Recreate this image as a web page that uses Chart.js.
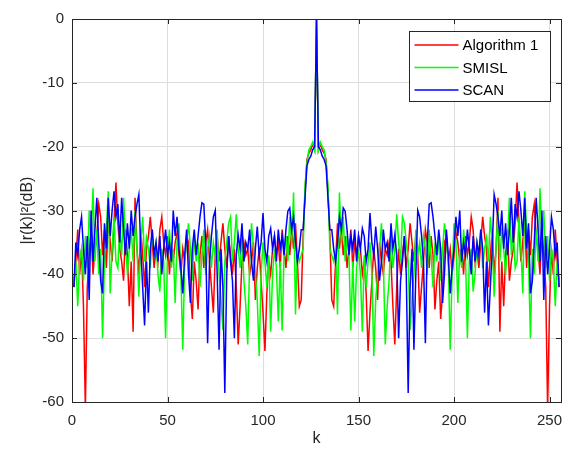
<!DOCTYPE html>
<html><head><meta charset="utf-8">
<script src="https://cdn.jsdelivr.net/npm/chart.js@4.4.0/dist/chart.umd.min.js"></script>
<style>html,body{margin:0;padding:0;background:#fff}</style>
</head><body>
<canvas id="c" width="568" height="453"></canvas>
<script>
const seriesNames = ['Algorithm 1', 'SMISL', 'SCAN'];
const seriesColors = ['#ff0000', '#00ff00', '#0000ff'];
const xTicks = [0, 50, 100, 150, 200, 250];
const yTicks = [0, -10, -20, -30, -40, -50, -60];

const algorithm1 = [
-42,-38,-33,-40,-36,-45,-61,-42,-37,-33,
-40,-36,-34,-29,-31,-37,-33,-39,-31,-35,
-38,-32,-25.6,-32,-36,-38,-41,-33,-37,-45,
-38,-49,-28,-36,-40,-33,-37,-42,-36,-34,
-31,-35,-39,-36,-38,-33,-31,-35,-37,-34,
-40,-36,-38,-35,-33.5,-37,-40,-36,-38,-34,
-35,-43,-47,-38,-41,-45.5,-37,-34,-39,-35,
-33,-38,-42,-46,-37,-34,-38,-35,-32,-36,
-39,-34,-37,-40,-36,-42,-51,-45,-38,-35,
-37,-36,-40,-38,-35,-44,-39,-36,-41,-46,
-52,-43,-38,-40,-36,-34,-37,-35,-39,-33,
-36,-39,-34,-37,-33,-36,-32,-38,-45,-44,
-34,-27,-22,-21,-20.5,-19.5,-20.5,
0,
-20.5,-19.5,-20.5,-21,-22,-27,-34,
-44,-45,-38,-32,-36,-33,-37,-34,-39,-36,
-33,-39,-35,-37,-34,-36,-40,-38,-43,-52,
-46,-41,-36,-39,-44,-35,-38,-40,-36,-37,
-35,-38,-45,-51,-42,-36,-40,-37,-34,-39,
-36,-32,-35,-38,-34,-37,-46,-42,-38,-33,
-35,-39,-34,-37,-45.5,-41,-38,-47,-43,-35,
-34,-38,-36,-40,-37,-33.5,-35,-38,-36,-40,
-34,-37,-35,-31,-33,-38,-36,-39,-35,-31,
-34,-36,-42,-37,-33,-40,-36,-28,-49,-38,
-45,-37,-33,-41,-38,-36,-32,-25.6,-32,-38,
-35,-31,-39,-33,-37,-31,-29,-34,-36,-40,
-33,-37,-42,-61,-45,-36,-40,-33,-38,-42
];

const smisl = [
-41,-38,-45,-38,-36,-41,-34,-39,-30,-35,
-26.5,-38,-33,-40,-36,-50,-38,-33,-27,-43,
-36,-31,-38,-39,-33,-37,-28,-35,-40,-36,
-32.7,-38,-30,-36,-43.5,-35,-31,-38,-34.3,-36,
-39,-33,-37,-35,-40,-42.7,-36,-38,-50,-37,
-33,-39,-36,-44.5,-35,-32,-40,-51.8,-38,-35,
-32,-36,-41,-34,-38,-35,-42,-37,-33,-40,
-36,-34,-39,-35,-37,-33,-40,-44,-48.7,-38,
-35,-32,-31,-38,-35,-30.6,-36,-39,-34,-41,
-45,-51,-38,-32,-36,-40,-44,-52.8,-40,-35,
-38,-42,-37,-49,-40,-36,-39,-47.4,-38,-48.8,
-37,-34,-38,-31,-35,-27.2,-46.3,-36,-38,-37,
-36,-26,-22.5,-20.5,-20,-19.3,-20.5,
0,
-20.5,-19.3,-20,-20.5,-22.5,-26,-36,
-37,-38,-36,-46.3,-27.2,-35,-31,-38,-34,-37,
-48.8,-38,-47.4,-39,-36,-40,-49,-37,-42,-38,
-35,-40,-52.8,-44,-40,-36,-32,-38,-51,-45,
-41,-34,-39,-36,-30.6,-35,-38,-31,-32,-35,
-38,-48.7,-44,-40,-33,-37,-35,-39,-34,-36,
-40,-33,-37,-42,-35,-38,-34,-41,-36,-32,
-35,-38,-51.8,-40,-32,-35,-44.5,-36,-39,-33,
-37,-50,-38,-36,-42.7,-40,-35,-37,-33,-39,
-36,-34.3,-38,-31,-35,-43.5,-36,-30,-38,-32.7,
-36,-40,-35,-28,-37,-33,-39,-38,-31,-36,
-43,-27,-33,-38,-50,-36,-40,-33,-38,-26.5,
-35,-30,-39,-34,-41,-36,-38,-45,-38,-41
];

const scan = [
-42,-35,-37,-33,-31,-36,-40,-34,-44,-30,
-38,-33,-28,-35,-41,-43,-32,-36,-28,-34,
-30,-27,-31,-29,-35,-28,-33,-37,-32,-36,
-30,-34,-31,-29,-27.5,-36,-42,-48,-38,-46,
-36,-33,-37,-35,-38,-34,-40,-36,-33,-37,
-35,-38,-30,-34,-31,-36,-39,-43,-37,-33,
-40,-44.5,-36,-33,-37,-34,-31,-28.8,-29,-35,
-50.8,-38,-34,-31,-30,-40,-51.8,-36,-42,-58.6,
-40,-34,-38,-41,-50,-37,-33.8,-36,-32,-38,
-35,-36,-33,-38,-41,-36,-32.5,-37,-35,-30.4,
-36,-38,-34,-32.8,-36,-34,-38,-33,-36,-34,
-37,-33,-30.1,-29.6,-33,-31,-35,-38,-36,-33,
-33,-28,-23,-22,-21.5,-20.5,-20,
0,
-20,-20.5,-21.5,-22,-23,-28,-33,
-33,-36,-38,-35,-31,-33,-29.6,-30.1,-33,-37,
-34,-36,-33,-38,-34,-36,-32.8,-34,-38,-36,
-30.4,-35,-37,-32.5,-36,-41,-38,-33,-36,-35,
-38,-32,-36,-33.8,-37,-50,-41,-38,-34,-40,
-58.6,-42,-36,-51.8,-40,-30,-31,-34,-38,-50.8,
-35,-29,-28.8,-31,-34,-37,-33,-36,-44.5,-40,
-33,-37,-43,-39,-36,-31,-34,-30,-38,-35,
-37,-33,-36,-40,-34,-38,-35,-37,-33,-36,
-46,-38,-48,-42,-36,-27.5,-29,-31,-34,-30,
-36,-32,-37,-33,-28,-35,-29,-31,-27,-30,
-34,-28,-36,-32,-43,-41,-35,-28,-33,-38,
-30,-44,-34,-40,-36,-31,-33,-37,-35,-42
];

const allSeries = [algorithm1, smisl, scan];
const lags = algorithm1.map((_, i) => i + 1);

const AX = '#262626';
Chart.defaults.font.family = '"Liberation Sans", Arial, Helvetica, sans-serif';
Chart.defaults.color = AX;

const boxPlugin = {
  id: 'matlabBox',
  afterDatasetsDraw(chart) {
    const {ctx, chartArea: a, scales} = chart;
    ctx.save();
    ctx.strokeStyle = AX;
    ctx.lineWidth = 1;
    const tl = 5;
    ctx.beginPath();
    xTicks.forEach(v => {
      const x = Math.round(scales.x.getPixelForValue(v)) + 0.5;
      ctx.moveTo(x, a.bottom); ctx.lineTo(x, a.bottom - tl);
      ctx.moveTo(x, a.top); ctx.lineTo(x, a.top + tl);
    });
    yTicks.forEach(v => {
      const y = Math.round(scales.y.getPixelForValue(v)) + 0.5;
      ctx.moveTo(a.left, y); ctx.lineTo(a.left + tl, y);
      ctx.moveTo(a.right, y); ctx.lineTo(a.right - tl, y);
    });
    ctx.stroke();
    ctx.strokeRect(Math.round(a.left) + 0.5, Math.round(a.top) + 0.5,
                   Math.round(a.right - a.left), Math.round(a.bottom - a.top));
    ctx.restore();
  },
  afterDraw(chart) {
    const {ctx, chartArea: a} = chart;
    const w = 141, h = 70;
    const x0 = Math.round(a.right - 11 - w) + 0.5, y0 = Math.round(a.top + 12) + 0.5;
    ctx.save();
    ctx.fillStyle = '#fff';
    ctx.fillRect(x0, y0, w, h);
    ctx.strokeStyle = AX;
    ctx.lineWidth = 1;
    ctx.strokeRect(x0, y0, w, h);
    ctx.font = '15px "Liberation Sans", Arial, sans-serif';
    ctx.textBaseline = 'middle';
    ctx.textAlign = 'left';
    chart.data.datasets.forEach((ds, i) => {
      const y = y0 + 13.5 + i * 22.5;
      ctx.strokeStyle = ds.borderColor;
      ctx.lineWidth = 1.5;
      ctx.beginPath();
      ctx.moveTo(x0 + 5, y); ctx.lineTo(x0 + 49, y);
      ctx.stroke();
      ctx.fillStyle = '#000';
      ctx.fillText(ds.label, x0 + 53, y + 1);
    });
    ctx.restore();
  }
};

new Chart(document.getElementById('c'), {
  type: 'line',
  data: {
    datasets: allSeries.map((arr, i) => ({
      label: seriesNames[i],
      data: lags.map((k, j) => ({x: k, y: arr[j]})),
      borderColor: seriesColors[i],
      backgroundColor: seriesColors[i],
      borderWidth: 1.5,
      pointRadius: 0,
      tension: 0,
      fill: false,
      order: 2 - i
    }))
  },
  options: {
    responsive: false,
    animation: false,
    layout: {padding: {top: 19, right: 7, left: 0, bottom: 0}},
    plugins: {legend: {display: false}, tooltip: {enabled: false}},
    scales: {
      x: {
        type: 'linear', min: 0, max: 256,
        afterBuildTicks: s => { s.ticks = xTicks.map(v => ({value: v})); },
        afterFit: s => { s.height = 51; s.paddingLeft = 0; s.paddingRight = 0; },
        grid: {color: '#dedede', drawTicks: false},
        border: {display: false},
        ticks: {padding: 10, font: {size: 15}, color: AX, autoSkip: false, maxRotation: 0},
        title: {display: true, text: 'k', font: {size: 16}, color: AX, padding: {top: 0, bottom: 5}}
      },
      y: {
        type: 'linear', min: -60, max: 0,
        afterBuildTicks: s => { s.ticks = yTicks.map(v => ({value: v})); },
        afterFit: s => { s.width = 72; s.paddingTop = 0; s.paddingBottom = 0; },
        grid: {color: '#dedede', drawTicks: false},
        border: {display: false},
        ticks: {padding: 8, font: {size: 15}, color: AX, autoSkip: false},
        title: {display: true, text: '|r(k)|²(dB)', font: {size: 16}, color: AX, padding: {top: 18, bottom: 0}}
      }
    }
  },
  plugins: [boxPlugin]
});
</script>
</body></html>
